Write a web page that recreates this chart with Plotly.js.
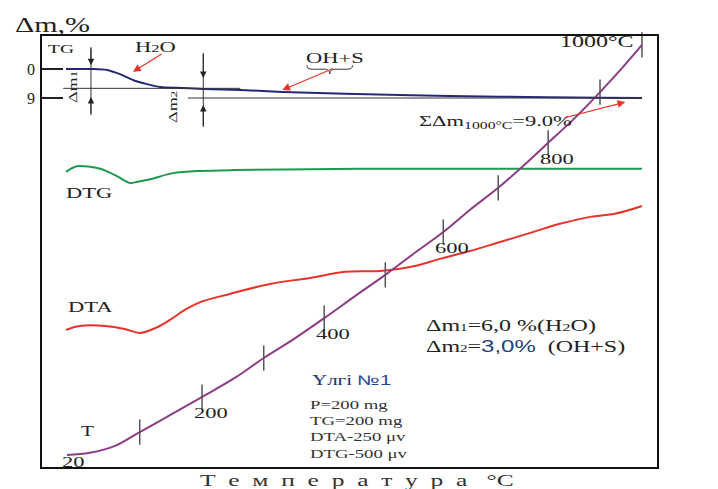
<!DOCTYPE html>
<html><head><meta charset="utf-8">
<script src="https://cdn.plot.ly/plotly-3.0.1.min.js"></script>
<style>
body{margin:0;background:#fff}
#chart{width:718px;height:489px}
.annotation-text{transform-box:fill-box;transform-origin:center;transform:scaleX(1.5)}
</style></head><body><div id="chart"></div>
<script>
// x: time (min), y (TG): mass loss %, y2: recorder signal (chart units 0..100)
const tgTime = [4.05, 8.3, 10.7, 12.8, 14.9, 17.2, 19.3, 23.0, 26.3, 32.3, 39.2, 58.2, 74.4, 90.6, 97.4];
const tgLoss = [0, 0, 0.3, 1.6, 3.4, 4.7, 5.6, 5.9, 6.2, 6.5, 7.1, 8.1, 8.6, 8.9, 9.0];

const dtgTime = [4.05, 5.8, 9.6, 12.3, 14.4, 15.6, 17.7, 21.4, 25.8, 31.1, 51.7, 97.4];
const dtgSignal = [68.4, 69.7, 69.1, 67.4, 65.8, 66.1, 66.7, 68.1, 68.6, 68.8, 69.1, 69.1];

const dtaTime = [4.05, 6.3, 10.4, 13.6, 16.0, 18.5, 20.9, 23.3, 25.8, 30.6, 37.1, 43.6, 49.3, 54.9, 59.8, 64.7, 69.5, 74.4, 79.3, 81.7, 84.1, 89.0, 93.0, 97.4];
const dtaSignal = [31.9, 32.8, 32.8, 32.1, 31.2, 32.3, 34.2, 36.5, 38.3, 40.2, 42.5, 43.9, 45.3, 45.5, 46.4, 48.3, 50.1, 52.2, 54.3, 55.4, 56.4, 58.0, 58.7, 60.5];

const tTime = [4.2, 7.9, 12.0, 16.0, 20.9, 26.1, 31.4, 36.1, 41.2, 45.9, 50.9, 55.8, 60.6, 65.2, 69.5, 74.1, 78.1, 82.2, 86.5, 90.6, 94.2, 97.4];
const tSignal = [3.0, 3.5, 5.1, 8.3, 12.2, 16.4, 20.8, 25.4, 30.0, 34.6, 39.7, 44.6, 49.7, 54.5, 59.6, 64.7, 69.7, 75.1, 80.8, 86.8, 92.4, 97.7];

const tickTemps = [100, 200, 300, 400, 500, 600, 700, 800, 900, 1000];
const tickTime = [16.0, 26.1, 36.1, 45.9, 55.8, 65.2, 74.1, 82.2, 90.6, 97.4];
const tickSignal = [8.3, 16.4, 25.4, 34.6, 44.6, 54.5, 64.7, 75.1, 86.8, 97.7];
const labelledTemps = [200, 400, 600, 800];
const startTemp = 20;

const massLevels = [6, 9];          // Δm1 level, total loss level
const totalLoss = 9.0;
const dm1 = '6,0', dm2 = '3,0';

const serif = 'Liberation Serif';
const ink = '#222';

const traces = [
  {x: tgTime, y: tgLoss, yaxis: 'y', mode: 'lines', line: {color: '#27277a', width: 2, shape: 'spline', smoothing: 0.8}, hoverinfo: 'skip'},
  {x: dtgTime, y: dtgSignal, yaxis: 'y2', mode: 'lines', line: {color: '#1f9a4c', width: 2, shape: 'spline', smoothing: 0.8}, hoverinfo: 'skip'},
  {x: dtaTime, y: dtaSignal, yaxis: 'y2', mode: 'lines', line: {color: '#e8322a', width: 2, shape: 'spline', smoothing: 1}, hoverinfo: 'skip'},
  {x: tTime, y: tSignal, yaxis: 'y2', mode: 'lines', line: {color: '#8c3c86', width: 2, shape: 'spline', smoothing: 1}, hoverinfo: 'skip'},
  {x: tickTime, y: tickSignal, yaxis: 'y2', mode: 'markers', cliponaxis: false,
   marker: {symbol: 'line-ns', size: 18, line: {color: '#555', width: 1.5}}, hoverinfo: 'skip'}
];

const ann = [];
function txt(x, y, text, size, extra) {
  ann.push(Object.assign({x: x, y: y, xref: 'x', yref: 'y2', text: text, showarrow: false,
    font: {family: serif, size: size, color: ink}, xanchor: 'center', yanchor: 'middle'}, extra || {}));
}
function arrow(x, y, ax, ay, color, yref, w) {
  ann.push({x: x, y: y, ax: ax, ay: ay, xref: 'x', yref: yref, axref: 'x', ayref: yref, text: '',
    showarrow: true, arrowhead: 2, arrowsize: 1.3, arrowwidth: w || 1.2, arrowcolor: color, standoff: 0, startstandoff: 0});
}

txt(0.019, 1.023, 'Δm,%', 20, {xref: 'paper', yref: 'paper'});
txt(3.2, 96.8, 'TG', 13);
txt(18.5, 97.2, "H<span style='font-size:11px'>2</span>O", 15);
txt(47.6, 94.7, 'OH+S', 15);
txt(73.6, 79.7, 'ΣΔm<sub>1000°C</sub>=' + totalLoss.toFixed(1) + '%', 15);
txt(7.8, 63.5, 'DTG', 15);
txt(8.1, 37.2, 'DTA', 15);
txt(7.6, 8.5, 'T', 14);
txt(105.0, 66.5, 'Exo', 15);
txt(105.0, 53.8, 'ΔT', 15);
txt(105.3, 41.8, 'Endo', 15);
txt(5.0, 88.2, "Δm<span style='font-size:9px'>1</span>", 12, {textangle: -90});
txt(21.4, 83.4, "Δm<span style='font-size:9px'>2</span>", 12, {textangle: -90});
txt(78.6, 30.3,
  "Δm<span style='font-size:10px'>1</span>=" + dm1 + " %(H<span style='font-size:11px'>2</span>O)<br>" +
  "Δm<span style='font-size:10px'>2</span>=<span style='font-family:Liberation Sans;color:#1f3f7a'>" + dm2 + "%</span>&nbsp;&nbsp;(OH+S)",
  16, {align: 'left'});
txt(50.4, 20.3, "Үлгі <span style='font-family:Liberation Sans;color:#1f4aa0'>№1</span>", 14, {font: {family: serif, size: 14, color: '#1a2f6b'}});
txt(51.4, 9.0, 'P=200 mg<br>TG=200 mg<br>DTA-250 μv<br>DTG-500 μv', 12.5, {align: 'left', font: {family: serif, size: 12.5, color: '#333'}});
const sp = '\u00a0\u00a0';
txt(0.512, -0.028, 'Температура'.split('').join(sp) + sp + '\u00a0°C', 17,
  {xref: 'paper', yref: 'paper', font: {family: serif, size: 17, color: '#333'}});

// temperature tick labels along T curve
tickTemps.forEach(function (T, i) {
  if (labelledTemps.indexOf(T) >= 0) {
    txt(tickTime[i], tickSignal[i], String(T), 15, {xshift: 9, yshift: -16});
  }
  if (T === 1000) {
    txt(tickTime[i], tickSignal[i], T + '°C', 16, {xshift: -45, yshift: 3});
  }
});
txt(tTime[0], tSignal[0], String(startTemp), 15, {xshift: 6, yshift: -7});

// red pointer arrows
arrow(14.9, 91.5, 19.8, 95.8, '#e8322a', 'y2');
arrow(39.1, 87.3, 47.6, 92.4, '#e8322a', 'y2');
arrow(94.7, 84.5, 84.6, 80.8, '#e8322a', 'y2');
// dimension arrows (TG units)
arrow(8.1, -1.2, 8.1, -6.8, '#222', 'y', 1);
arrow(8.1, 8.7, 8.1, 14.3, '#222', 'y', 1);
arrow(26.3, 2.8, 26.3, -5.0, '#222', 'y', 1);
arrow(26.3, 11.2, 26.3, 18.0, '#222', 'y', 1);
// Exo / Endo arrows
arrow(105.2, 64.2, 105.2, 56.8, '#555', 'y2', 1.5);
arrow(105.2, 43.0, 105.2, 50.8, '#555', 'y2', 1.5);

const shapes = [
  {type: 'rect', xref: 'paper', yref: 'paper', x0: 0, x1: 1, y0: 0, y1: 1, line: {color: '#111', width: 2}, layer: 'above'},
  {type: 'line', xref: 'x', yref: 'y', x0: 3.6, x1: 32.3, y0: massLevels[0], y1: massLevels[0], line: {color: '#333', width: 1}},
  {type: 'line', xref: 'x', yref: 'y', x0: 23.8, x1: 97.4, y0: massLevels[1], y1: massLevels[1], line: {color: '#333', width: 1}},
  {type: 'line', xref: 'x', yref: 'y', x0: 8.1, x1: 8.1, y0: -6.8, y1: 14.3, line: {color: '#333', width: 1}},
  {type: 'line', xref: 'x', yref: 'y', x0: 26.3, x1: 26.3, y0: -5.0, y1: 18.0, line: {color: '#333', width: 1}},
  {type: 'path', xref: 'x', yref: 'y2', line: {color: '#333', width: 1},
   path: 'M43.1,93.0 C43.1,91.9 44.0,92.1 45.0,92.1 L45.9,92.1 C46.6,92.1 46.8,91.6 46.8,91.0 C46.8,91.6 47.0,92.1 47.7,92.1 L48.6,92.1 C49.6,92.1 50.5,91.9 50.5,93.0'}
];

const layout = {
  width: 718, height: 489,
  margin: {l: 41, r: 60, t: 35, b: 21},
  paper_bgcolor: '#fff', plot_bgcolor: '#fff',
  showlegend: false,
  xaxis: {range: [0, 100], showline: false, showticklabels: false, ticks: '', showgrid: false, zeroline: false, fixedrange: true},
  yaxis: {range: [123.8, -10.55], showline: false,
          tickvals: [0, 9], ticktext: ['0', '9'], ticks: 'inside', ticklen: 22, tickwidth: 1.5, tickcolor: '#222',
          tickfont: {family: serif, size: 16, color: ink}, ticklabelstandoff: 5,
          showgrid: false, zeroline: false, fixedrange: true},
  yaxis2: {range: [0, 100], overlaying: 'y', visible: false, fixedrange: true},
  annotations: ann,
  shapes: shapes
};

Plotly.newPlot('chart', traces, layout, {staticPlot: true, displayModeBar: false});
</script></body></html>
